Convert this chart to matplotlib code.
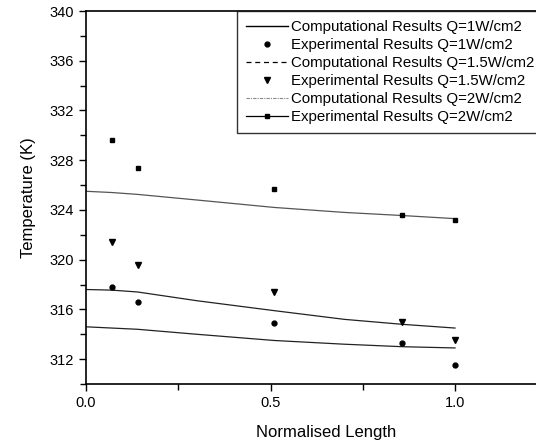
import matplotlib.pyplot as plt
from matplotlib.lines import Line2D
from matplotlib.ticker import MultipleLocator

plt.rcParams['font.family'] = ['Liberation Sans', 'DejaVu Sans']

# measured positions along the channel
x_exp = [0.07, 0.14, 0.51, 0.857, 1.0]
x_comp = [0.0, 0.07, 0.14, 0.3, 0.51, 0.7, 0.857, 1.0]

# computational curves (K)
comp_q1 = [314.6, 314.5, 314.4, 314.0, 313.5, 313.2, 313.0, 312.9]
comp_q15 = [317.6, 317.55, 317.4, 316.7, 315.9, 315.2, 314.8, 314.5]
comp_q2 = [325.5, 325.4, 325.25, 324.8, 324.2, 323.8, 323.55, 323.3]

# experimental points (K)
exp_q1 = [317.8, 316.6, 314.9, 313.3, 311.5]
exp_q15 = [321.4, 319.6, 317.4, 315.0, 313.5]
exp_q2 = [329.6, 327.4, 325.7, 323.6, 323.2]

labels = ['Computational Results Q=1W/cm2',
          'Experimental Results Q=1W/cm2',
          'Computational Results Q=1.5W/cm2',
          'Experimental Results Q=1.5W/cm2',
          'Computational Results Q=2W/cm2',
          'Experimental Results Q=2W/cm2']

fig = plt.figure(figsize=(5.36, 4.4), dpi=100)
ax = fig.add_axes([86/536, (440-384)/440, 1.3*369/536, 373/440])

ax.plot(x_comp, comp_q1, color='#222222', lw=0.9)
ax.plot(x_comp, comp_q15, color='#222222', lw=0.9)
ax.plot(x_comp, comp_q2, color='#555555', lw=0.9)
ax.plot(x_exp, exp_q1, 'o', color='black', ms=3.5, ls='none')
ax.plot(x_exp, exp_q15, 'v', color='black', ms=4, ls='none')
ax.plot(x_exp, exp_q2, 's', color='black', ms=3, ls='none')

ax.set_xlim(0, 1.3)
ax.set_ylim(310, 340)
ax.set_xticks([0.0, 0.5, 1.0])
ax.set_xticklabels(['0.0', '0.5', '1.0'])
ax.xaxis.set_minor_locator(MultipleLocator(0.25))
ax.set_yticks(range(312, 341, 4))
ax.yaxis.set_minor_locator(MultipleLocator(2))
ax.tick_params(which='both', direction='out', labelsize=10.5, width=1)
ax.tick_params(which='major', length=5)
ax.tick_params(which='minor', length=4)
for s in ['left', 'bottom', 'top']:
    ax.spines[s].set_linewidth(1.2)
ax.spines['right'].set_visible(False)

ax.set_xlabel('Normalised Length', fontsize=12, labelpad=11)
ax.set_ylabel('Temperature (K)', fontsize=12, labelpad=10)

handles = [
    Line2D([], [], color='black', lw=1),
    Line2D([], [], color='black', marker='o', ms=3.5, ls='none'),
    Line2D([], [], color='black', lw=0.9, ls=(0, (4, 3))),
    Line2D([], [], color='black', marker='v', ms=4, ls='none'),
    Line2D([], [], color='#888888', lw=0.8, ls=(0, (3, 1, 1, 1))),
    Line2D([], [], color='black', lw=0.9, marker='s', ms=3),
]
leg = fig.legend(handles, labels, loc='upper left',
                 bbox_to_anchor=(237/536, 1 - 11/440),
                 fontsize=10.8, frameon=True, fancybox=False,
                 handlelength=2.8, labelspacing=0.27, borderpad=0.6,
                 handletextpad=0.2, borderaxespad=0)
leg.get_frame().set_edgecolor('black')
leg.get_frame().set_linewidth(1)

fig.savefig('out.png', dpi=100)
